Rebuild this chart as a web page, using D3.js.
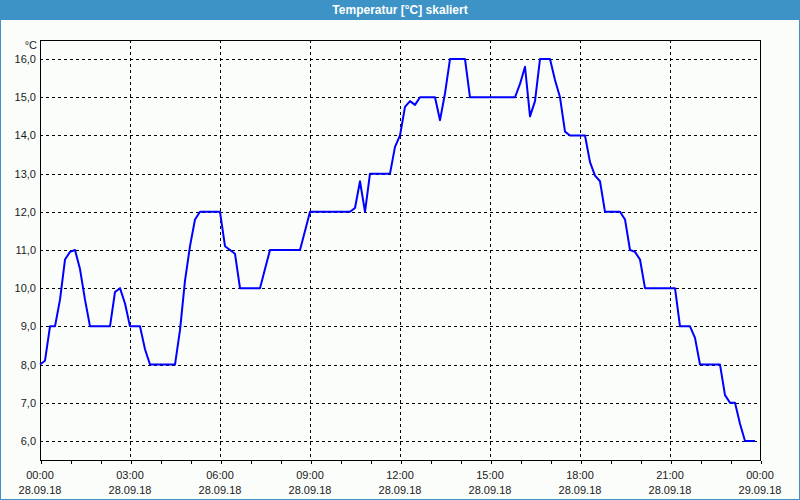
<!DOCTYPE html>
<html><head><meta charset="utf-8">
<script src="https://cdn.jsdelivr.net/npm/d3@7"></script>
<style>
html,body{margin:0;padding:0;background:#fff;}
svg{display:block;}
</style></head>
<body>
<svg id="chart" width="800" height="500"></svg>
<script>
// ---- data ----
const title = "Temperatur [°C] skaliert";
const unitLabel = "°C";
const startTime = "2018-09-28T00:00:00";
const sampleStepMinutes = 10;
// temperature samples, every 10 minutes from 00:00
const temperature = [
  8.0, 8.1, 9.0, 9.0, 9.7, 10.75, 10.95, 11.0, 10.5, 9.7,
  9.0, 9.0, 9.0, 9.0, 9.0, 9.9, 10.0, 9.6, 9.0, 9.0,
  9.0, 8.4, 8.0, 8.0, 8.0, 8.0, 8.0, 8.0, 8.9, 10.2,
  11.1, 11.8, 12.0, 12.0, 12.0, 12.0, 12.0, 11.1, 11.0, 10.9,
  10.0, 10.0, 10.0, 10.0, 10.0, 10.5, 11.0, 11.0, 11.0, 11.0,
  11.0, 11.0, 11.0, 11.5, 12.0, 12.0, 12.0, 12.0, 12.0, 12.0,
  12.0, 12.0, 12.0, 12.1, 12.8, 12.0, 13.0, 13.0, 13.0, 13.0,
  13.0, 13.7, 14.0, 14.75, 14.9, 14.8, 15.0, 15.0, 15.0, 15.0,
  14.4, 15.1, 16.0, 16.0, 16.0, 16.0, 15.0, 15.0, 15.0, 15.0,
  15.0, 15.0, 15.0, 15.0, 15.0, 15.0, 15.35, 15.8, 14.5, 14.9,
  16.0, 16.0, 16.0, 15.45, 15.0, 14.1, 14.0, 14.0, 14.0, 14.0,
  13.3, 12.95, 12.8, 12.0, 12.0, 12.0, 12.0, 11.8, 11.0, 10.95,
  10.75, 10.0, 10.0, 10.0, 10.0, 10.0, 10.0, 10.0, 9.0, 9.0,
  9.0, 8.7, 8.0, 8.0, 8.0, 8.0, 8.0, 7.2, 7.0, 7.0,
  6.45, 6.0, 6.0, 6.0
];
const yTicks = [6, 7, 8, 9, 10, 11, 12, 13, 14, 15, 16];
const yDomain = [5.5, 16.5];
const xTickLabels = [
  ["00:00","28.09.18"],["03:00","28.09.18"],["06:00","28.09.18"],
  ["09:00","28.09.18"],["12:00","28.09.18"],["15:00","28.09.18"],
  ["18:00","28.09.18"],["21:00","28.09.18"],["00:00","29.09.18"]
];

// ---- layout ----
const W = 800, H = 500;
const plot = {left: 40, top: 40, right: 760, bottom: 460};
const svg = d3.select("#chart");
const font = "'Liberation Sans', Arial, sans-serif";

const t0 = new Date(startTime);
const t1 = d3.timeDay.offset(t0, 1);
const x = d3.scaleTime().domain([t0, t1]).range([plot.left, plot.right]);
const y = d3.scaleLinear().domain(yDomain).range([plot.bottom, plot.top]);

const series = temperature.map((v, i) => ({t: d3.timeMinute.offset(t0, i * sampleStepMinutes), v}));

// background
svg.append("rect").attr("x", 0).attr("y", 0).attr("width", W).attr("height", H).attr("fill", "#fbfdfb");
// title bar
svg.append("rect").attr("x", 0).attr("y", 0).attr("width", W).attr("height", 20).attr("fill", "#3d93c5");
svg.append("text").attr("x", W / 2).attr("y", 10).attr("text-anchor", "middle")
  .attr("dominant-baseline", "central").attr("fill", "#fff")
  .style("font", `bold 12px ${font}`).text(title);
// window border
svg.append("rect").attr("x", 0.5).attr("y", 0.5).attr("width", W - 1).attr("height", H - 1)
  .attr("fill", "none").attr("stroke", "#3d93c5");

// grid
const gridG = svg.append("g").attr("stroke", "#000").attr("stroke-dasharray", "3,3").attr("shape-rendering", "crispEdges");
gridG.selectAll("line.h").data(yTicks).join("line")
  .attr("x1", plot.left).attr("x2", plot.right)
  .attr("y1", d => Math.round(y(d)) + 0.5).attr("y2", d => Math.round(y(d)) + 0.5);
const majorTimes = d3.timeHour.every(3).range(t0, d3.timeMinute.offset(t1, 1));
gridG.selectAll("line.v").data(majorTimes.slice(1, -1)).join("line")
  .attr("x1", d => Math.round(x(d)) + 0.5).attr("x2", d => Math.round(x(d)) + 0.5)
  .attr("y1", plot.top).attr("y2", plot.bottom);

// frame
svg.append("rect").attr("x", plot.left + 0.5).attr("y", plot.top + 0.5)
  .attr("width", plot.right - plot.left).attr("height", plot.bottom - plot.top)
  .attr("fill", "none").attr("stroke", "#000").attr("shape-rendering", "crispEdges");

// x axis ticks (hourly)
const xAxis = d3.axisBottom(x).ticks(d3.timeHour.every(1)).tickSize(3).tickFormat("");
const xg = svg.append("g").attr("transform", `translate(0.5,${plot.bottom + 0.5})`).call(xAxis);
xg.select(".domain").remove();
xg.selectAll("line").attr("stroke", "#000").attr("shape-rendering", "crispEdges");

// x labels
const lblG = svg.append("g").style("font", `11px ${font}`).attr("fill", "#1a1a1a").attr("text-anchor", "middle");
majorTimes.forEach((t, i) => {
  const lab = xTickLabels[i];
  if (!lab) return;
  lblG.append("text").attr("x", x(t)).attr("y", 475).attr("dominant-baseline", "central").text(lab[0]);
  lblG.append("text").attr("x", x(t)).attr("y", 490).attr("dominant-baseline", "central").text(lab[1]);
});

// y labels
const yLbl = svg.append("g").style("font", `11px ${font}`).attr("fill", "#1a1a1a").attr("text-anchor", "end");
yLbl.selectAll("text").data(yTicks).join("text")
  .attr("x", 36).attr("y", d => y(d)).attr("dominant-baseline", "central")
  .text(d => d.toFixed(1).replace(".", ","));
yLbl.append("text").attr("x", 37).attr("y", 45).attr("dominant-baseline", "central").text(unitLabel);

// line
const line = d3.line().x(d => x(d.t)).y(d => y(d.v));
svg.append("path").datum(series).attr("d", line)
  .attr("fill", "none").attr("stroke", "#0000ff").attr("stroke-width", 2).attr("stroke-linejoin", "round");
</script>
</body></html>
